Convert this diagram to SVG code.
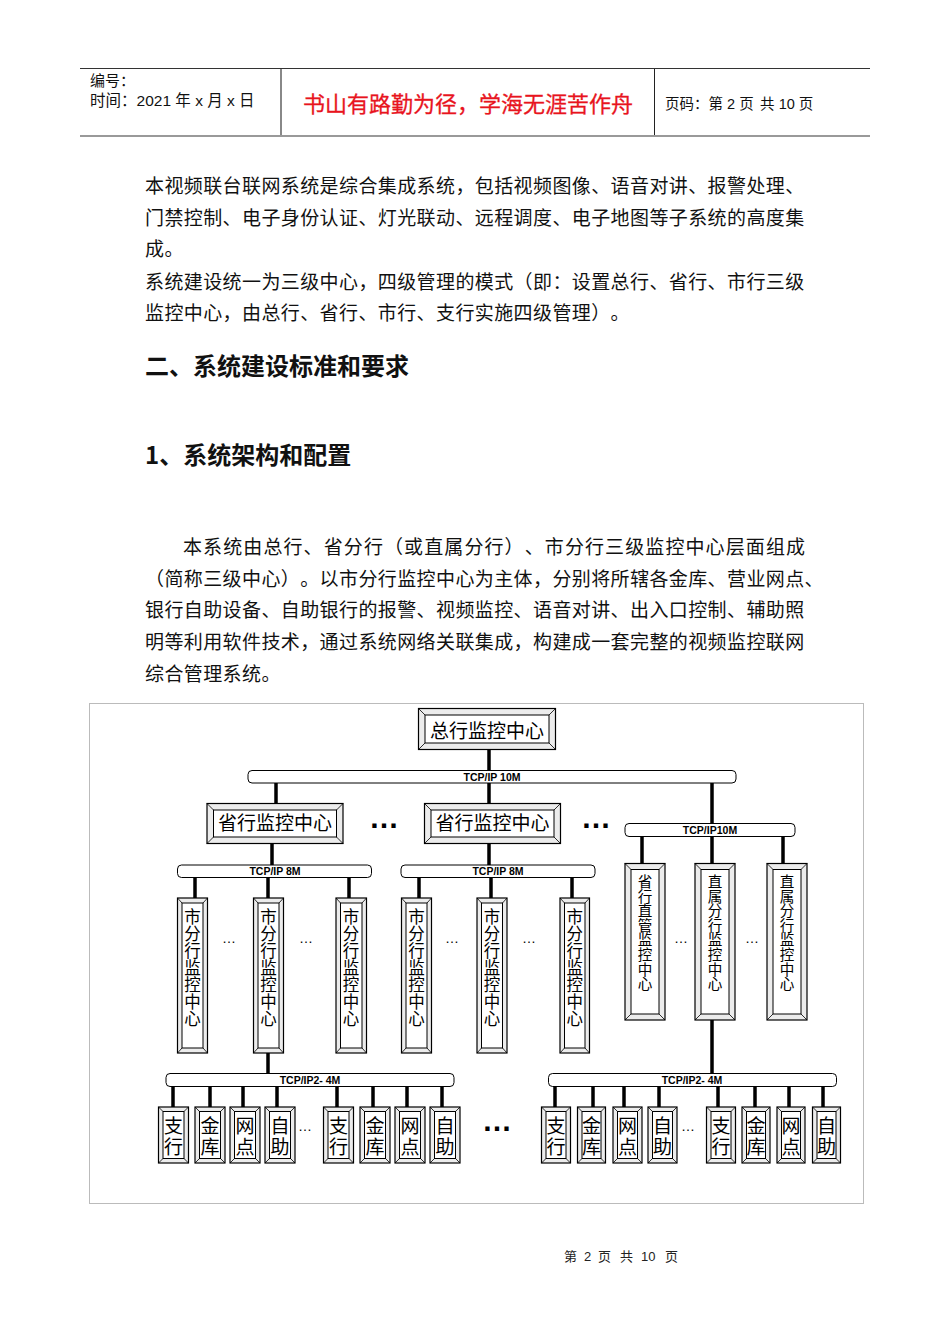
<svg xmlns="http://www.w3.org/2000/svg" width="950" height="1344" viewBox="0 0 950 1344">
<style>
text{text-spacing-trim:space-all;}
.cjk{font-family:"Noto Sans CJK SC","Liberation Sans",sans-serif;}
.body{font-family:"Noto Sans CJK SC","Liberation Sans",sans-serif;font-size:19px;letter-spacing:0.4px;fill:#111;}
.h{font-family:"Noto Sans CJK SC","Liberation Sans",sans-serif;font-size:24px;font-weight:bold;fill:#111;}
.bus{fill:#fff;stroke:#000;stroke-width:1;}
.busl{font-family:"Liberation Sans",Arial,sans-serif;font-size:10.5px;font-weight:bold;text-anchor:middle;fill:#000;}
.ln{stroke:#000;stroke-width:3.5;fill:none;}
.bo{fill:#ececec;stroke:#000;stroke-width:1.2;}
.bi{fill:#fff;stroke:#000;stroke-width:1;}
.bd{stroke:#000;stroke-width:0.8;}
.nt{font-family:"Noto Sans CJK SC","Liberation Sans",sans-serif;fill:#000;text-anchor:middle;}
.dots{font-family:"Liberation Sans",Arial,sans-serif;font-weight:bold;font-size:30px;text-anchor:middle;fill:#000;}
.sd{font-family:"Liberation Sans",Arial,sans-serif;font-size:14px;text-anchor:middle;fill:#000;}
.lat{font-family:"Liberation Sans",Arial,sans-serif;}
</style>

<!-- header -->
<g id="header">
<line x1="80" y1="68.5" x2="870" y2="68.5" stroke="#333" stroke-width="1"/>
<line x1="80" y1="136" x2="870" y2="136" stroke="#999" stroke-width="2"/>
<line x1="281" y1="69" x2="281" y2="135" stroke="#888" stroke-width="2"/>
<line x1="654.5" y1="69" x2="654.5" y2="135" stroke="#222" stroke-width="1"/>
<text x="90" y="86" class="cjk" font-size="15" fill="#111">编号：</text>
<text x="90" y="105.5" class="cjk" font-size="15.5" fill="#111" xml:space="preserve">时间：<tspan class="lat">2021 </tspan>年<tspan class="lat"> x </tspan>月<tspan class="lat"> x </tspan>日</text>
<text x="468" y="112" class="cjk" font-size="22" fill="#e8141e" text-anchor="middle" stroke="#e8141e" stroke-width="0.3">书山有路勤为径，学海无涯苦作舟</text>
<text x="665" y="109" class="cjk" font-size="14.5" fill="#111" xml:space="preserve">页码：第<tspan class="lat"> 2 </tspan>页  共<tspan class="lat"> 10 </tspan>页</text>
</g>

<!-- body text -->
<g id="text">
<text x="145" y="193" class="body">本视频联台联网系统是综合集成系统，包括视频图像、语音对讲、报警处理、</text>
<text x="145" y="225" class="body">门禁控制、电子身份认证、灯光联动、远程调度、电子地图等子系统的高度集</text>
<text x="145" y="256" class="body">成。</text>
<text x="145" y="289" class="body">系统建设统一为三级中心，四级管理的模式（即：设置总行、省行、市行三级</text>
<text x="145" y="320" class="body">监控中心，由总行、省行、市行、支行实施四级管理）。</text>
<text x="145" y="375" class="h">二、系统建设标准和要求</text>
<text x="145" y="464" class="h">1、系统架构和配置</text>
<text x="183" y="554" class="body" style="letter-spacing:1.1px">本系统由总行、省分行（或直属分行）、市分行三级监控中心层面组成</text>
<text x="145" y="586" class="body">（简称三级中心）。以市分行监控中心为主体，分别将所辖各金库、营业网点、</text>
<text x="145" y="617" class="body">银行自助设备、自助银行的报警、视频监控、语音对讲、出入口控制、辅助照</text>
<text x="145" y="649" class="body">明等利用软件技术，通过系统网络关联集成，构建成一套完整的视频监控联网</text>
<text x="145" y="681" class="body">综合管理系统。</text>
</g>

<rect id="frame" x="89.5" y="703.5" width="774" height="500" fill="none" stroke="#bbb" stroke-width="1"/>

<!-- connectors -->
<g id="connectors">
<line class="ln" x1="489" y1="749" x2="489" y2="771"/>
<line class="ln" x1="276" y1="782" x2="276" y2="804"/>
<line class="ln" x1="489" y1="782" x2="489" y2="804"/>
<line class="ln" x1="712" y1="782" x2="712" y2="824"/>
<line class="ln" x1="272" y1="843" x2="272" y2="866"/>
<line class="ln" x1="489" y1="843" x2="489" y2="866"/>
<line class="ln" x1="195" y1="877" x2="195" y2="898"/>
<line class="ln" x1="268" y1="877" x2="268" y2="898"/>
<line class="ln" x1="349" y1="877" x2="349" y2="898"/>
<line class="ln" x1="419" y1="877" x2="419" y2="898"/>
<line class="ln" x1="491" y1="877" x2="491" y2="898"/>
<line class="ln" x1="572" y1="877" x2="572" y2="898"/>
<line class="ln" x1="642" y1="836" x2="642" y2="864"/>
<line class="ln" x1="712" y1="836" x2="712" y2="864"/>
<line class="ln" x1="783" y1="836" x2="783" y2="864"/>
<line class="ln" x1="268" y1="1053" x2="268" y2="1074"/>
<line class="ln" x1="712" y1="1020" x2="712" y2="1074"/>
<line class="ln" x1="173" y1="1086" x2="173" y2="1107"/>
<line class="ln" x1="210" y1="1086" x2="210" y2="1107"/>
<line class="ln" x1="243" y1="1086" x2="243" y2="1107"/>
<line class="ln" x1="277" y1="1086" x2="277" y2="1107"/>
<line class="ln" x1="337" y1="1086" x2="337" y2="1107"/>
<line class="ln" x1="373" y1="1086" x2="373" y2="1107"/>
<line class="ln" x1="407" y1="1086" x2="407" y2="1107"/>
<line class="ln" x1="442" y1="1086" x2="442" y2="1107"/>
<line class="ln" x1="555" y1="1086" x2="555" y2="1107"/>
<line class="ln" x1="593" y1="1086" x2="593" y2="1107"/>
<line class="ln" x1="624" y1="1086" x2="624" y2="1107"/>
<line class="ln" x1="659" y1="1086" x2="659" y2="1107"/>
<line class="ln" x1="718" y1="1086" x2="718" y2="1107"/>
<line class="ln" x1="755" y1="1086" x2="755" y2="1107"/>
<line class="ln" x1="789" y1="1086" x2="789" y2="1107"/>
<line class="ln" x1="823" y1="1086" x2="823" y2="1107"/>
</g>

<!-- buses -->
<g id="bus-10M"><rect class="bus" x="248" y="770.5" width="488" height="12.5" rx="4"/><text class="busl" x="492" y="780.8">TCP/IP 10M</text></g>
<g id="bus-8M-1"><rect class="bus" x="177.5" y="865" width="194" height="12.5" rx="4"/><text class="busl" x="275" y="875.3">TCP/IP 8M</text></g>
<g id="bus-8M-2"><rect class="bus" x="401" y="865" width="194" height="12.5" rx="4"/><text class="busl" x="498" y="875.3">TCP/IP 8M</text></g>
<g id="bus-10M-2"><rect class="bus" x="625" y="823.5" width="170" height="13" rx="4"/><text class="busl" x="710" y="833.8">TCP/IP10M</text></g>
<g id="bus-4M-1"><rect class="bus" x="166" y="1073.5" width="288" height="13" rx="4"/><text class="busl" x="310" y="1083.8">TCP/IP2- 4M</text></g>
<g id="bus-4M-2"><rect class="bus" x="548.5" y="1073.5" width="288" height="13" rx="4"/><text class="busl" x="692" y="1083.8">TCP/IP2- 4M</text></g>

<!-- top node -->
<g id="hq">
<rect class="bo" x="418.5" y="708.5" width="137" height="41"/>
<rect class="bi" x="425" y="715" width="124" height="28"/>
<path class="bd" d="M418.5 708.5L425 715M555.5 708.5L549 715M418.5 749.5L425 743M555.5 749.5L549 743"/>
<text class="nt" x="487" y="738" font-size="19">总行监控中心</text>
</g>

<g id="prov-1">
<rect class="bo" x="207" y="803.5" width="136" height="40"/>
<rect class="bi" x="213.5" y="810" width="123" height="27"/>
<path class="bd" d="M207 803.5L213.5 810M343 803.5L336.5 810M207 843.5L213.5 837M343 843.5L336.5 837"/>
<text class="nt" x="275" y="830" font-size="19">省行监控中心</text>
</g>
<g id="prov-2">
<rect class="bo" x="424.5" y="803.5" width="136" height="40"/>
<rect class="bi" x="431" y="810" width="123" height="27"/>
<path class="bd" d="M424.5 803.5L431 810M560.5 803.5L554 810M424.5 843.5L431 837M560.5 843.5L554 837"/>
<text class="nt" x="492.5" y="830" font-size="19">省行监控中心</text>
</g>
<text class="dots" x="384" y="828">…</text>
<text class="dots" x="596" y="828">…</text>

<!-- city nodes -->
<g id="city-1">
<rect class="bo" x="177.5" y="898" width="30" height="155"/><rect class="bi" x="182" y="903" width="21" height="145"/>
<path class="bd" d="M177.5 898L182 903M207.5 898L203 903M177.5 1053L182 1048M207.5 1053L203 1048"/>
<text class="nt" font-size="16.5" x="192.5 192.5 192.5 192.5 192.5 192.5 192.5" y="923 940 957 974 991 1008 1025">市分行监控中心</text>
</g>
<g id="city-2">
<rect class="bo" x="253.5" y="898" width="30" height="155"/><rect class="bi" x="258" y="903" width="21" height="145"/>
<path class="bd" d="M253.5 898L258 903M283.5 898L279 903M253.5 1053L258 1048M283.5 1053L279 1048"/>
<text class="nt" font-size="16.5" x="268.5 268.5 268.5 268.5 268.5 268.5 268.5" y="923 940 957 974 991 1008 1025">市分行监控中心</text>
</g>
<g id="city-3">
<rect class="bo" x="336" y="898" width="30.5" height="155"/><rect class="bi" x="340.5" y="903" width="21.5" height="145"/>
<path class="bd" d="M336 898L340.5 903M366.5 898L362 903M336 1053L340.5 1048M366.5 1053L362 1048"/>
<text class="nt" font-size="16.5" x="351 351 351 351 351 351 351" y="923 940 957 974 991 1008 1025">市分行监控中心</text>
</g>
<g id="city-4">
<rect class="bo" x="401.5" y="898" width="30" height="155"/><rect class="bi" x="406" y="903" width="21" height="145"/>
<path class="bd" d="M401.5 898L406 903M431.5 898L427 903M401.5 1053L406 1048M431.5 1053L427 1048"/>
<text class="nt" font-size="16.5" x="416.5 416.5 416.5 416.5 416.5 416.5 416.5" y="923 940 957 974 991 1008 1025">市分行监控中心</text>
</g>
<g id="city-5">
<rect class="bo" x="477" y="898" width="30" height="155"/><rect class="bi" x="481.5" y="903" width="21" height="145"/>
<path class="bd" d="M477 898L481.5 903M507 898L502.5 903M477 1053L481.5 1048M507 1053L502.5 1048"/>
<text class="nt" font-size="16.5" x="492 492 492 492 492 492 492" y="923 940 957 974 991 1008 1025">市分行监控中心</text>
</g>
<g id="city-6">
<rect class="bo" x="560" y="898" width="29.5" height="155"/><rect class="bi" x="564.5" y="903" width="20.5" height="145"/>
<path class="bd" d="M560 898L564.5 903M589.5 898L585 903M560 1053L564.5 1048M589.5 1053L585 1048"/>
<text class="nt" font-size="16.5" x="574.8 574.8 574.8 574.8 574.8 574.8 574.8" y="923 940 957 974 991 1008 1025">市分行监控中心</text>
</g>
<text class="sd" x="229" y="943">…</text>
<text class="sd" x="306" y="943">…</text>
<text class="sd" x="452" y="943">…</text>
<text class="sd" x="529" y="943">…</text>

<!-- right group -->
<g id="prov-direct">
<rect class="bo" x="625" y="863.5" width="40" height="156.5"/><rect class="bi" x="631" y="869.5" width="28" height="144.5"/>
<path class="bd" d="M625 863.5L631 869.5M665 863.5L659 869.5M625 1020L631 1014M665 1020L659 1014"/>
<text class="nt" font-size="14.6" x="645 645 645 645 645 645 645 645" y="887 901.6 916.2 930.8 945.4 960 974.6 989.2">省行直管监控中心</text>
</g>
<g id="direct-1">
<rect class="bo" x="695" y="863.5" width="40" height="156.5"/><rect class="bi" x="701" y="869.5" width="28" height="144.5"/>
<path class="bd" d="M695 863.5L701 869.5M735 863.5L729 869.5M695 1020L701 1014M735 1020L729 1014"/>
<text class="nt" font-size="14.6" x="715 715 715 715 715 715 715 715" y="887 901.6 916.2 930.8 945.4 960 974.6 989.2">直属分行监控中心</text>
</g>
<g id="direct-2">
<rect class="bo" x="767" y="863.5" width="40" height="156.5"/><rect class="bi" x="773" y="869.5" width="28" height="144.5"/>
<path class="bd" d="M767 863.5L773 869.5M807 863.5L801 869.5M767 1020L773 1014M807 1020L801 1014"/>
<text class="nt" font-size="14.6" x="787 787 787 787 787 787 787 787" y="887 901.6 916.2 930.8 945.4 960 974.6 989.2">直属分行监控中心</text>
</g>
<text class="sd" x="681" y="943">…</text>
<text class="sd" x="752" y="943">…</text>

<!-- bottom nodes -->
<g id="b1"><rect class="bo" x="158.5" y="1107" width="30" height="56"/><rect class="bi" x="163" y="1111.5" width="21" height="47"/><path class="bd" d="M158.5 1107L163 1111.5M188.5 1107L184 1111.5M158.5 1163L163 1158.5M188.5 1163L184 1158.5"/><text class="nt" font-size="19" x="173.5 173.5" y="1133 1154">支行</text></g>
<g id="b2"><rect class="bo" x="195" y="1107" width="30" height="56"/><rect class="bi" x="199.5" y="1111.5" width="21" height="47"/><path class="bd" d="M195 1107L199.5 1111.5M225 1107L220.5 1111.5M195 1163L199.5 1158.5M225 1163L220.5 1158.5"/><text class="nt" font-size="19" x="210 210" y="1133 1154">金库</text></g>
<g id="b3"><rect class="bo" x="230" y="1107" width="30" height="56"/><rect class="bi" x="234.5" y="1111.5" width="21" height="47"/><path class="bd" d="M230 1107L234.5 1111.5M260 1107L255.5 1111.5M230 1163L234.5 1158.5M260 1163L255.5 1158.5"/><text class="nt" font-size="19" x="245 245" y="1133 1154">网点</text></g>
<g id="b4"><rect class="bo" x="265" y="1107" width="30" height="56"/><rect class="bi" x="269.5" y="1111.5" width="21" height="47"/><path class="bd" d="M265 1107L269.5 1111.5M295 1107L290.5 1111.5M265 1163L269.5 1158.5M295 1163L290.5 1158.5"/><text class="nt" font-size="19" x="280 280" y="1133 1154">自助</text></g>
<g id="b5"><rect class="bo" x="323.5" y="1107" width="30" height="56"/><rect class="bi" x="328" y="1111.5" width="21" height="47"/><path class="bd" d="M323.5 1107L328 1111.5M353.5 1107L349 1111.5M323.5 1163L328 1158.5M353.5 1163L349 1158.5"/><text class="nt" font-size="19" x="338.5 338.5" y="1133 1154">支行</text></g>
<g id="b6"><rect class="bo" x="360" y="1107" width="30" height="56"/><rect class="bi" x="364.5" y="1111.5" width="21" height="47"/><path class="bd" d="M360 1107L364.5 1111.5M390 1107L385.5 1111.5M360 1163L364.5 1158.5M390 1163L385.5 1158.5"/><text class="nt" font-size="19" x="375 375" y="1133 1154">金库</text></g>
<g id="b7"><rect class="bo" x="395" y="1107" width="30" height="56"/><rect class="bi" x="399.5" y="1111.5" width="21" height="47"/><path class="bd" d="M395 1107L399.5 1111.5M425 1107L420.5 1111.5M395 1163L399.5 1158.5M425 1163L420.5 1158.5"/><text class="nt" font-size="19" x="410 410" y="1133 1154">网点</text></g>
<g id="b8"><rect class="bo" x="430" y="1107" width="30" height="56"/><rect class="bi" x="434.5" y="1111.5" width="21" height="47"/><path class="bd" d="M430 1107L434.5 1111.5M460 1107L455.5 1111.5M430 1163L434.5 1158.5M460 1163L455.5 1158.5"/><text class="nt" font-size="19" x="445 445" y="1133 1154">自助</text></g>
<g id="b9"><rect class="bo" x="541.5" y="1107" width="29" height="56"/><rect class="bi" x="546" y="1111.5" width="20" height="47"/><path class="bd" d="M541.5 1107L546 1111.5M570.5 1107L566 1111.5M541.5 1163L546 1158.5M570.5 1163L566 1158.5"/><text class="nt" font-size="19" x="556 556" y="1133 1154">支行</text></g>
<g id="b10"><rect class="bo" x="577.5" y="1107" width="28" height="56"/><rect class="bi" x="582" y="1111.5" width="19" height="47"/><path class="bd" d="M577.5 1107L582 1111.5M605.5 1107L601 1111.5M577.5 1163L582 1158.5M605.5 1163L601 1158.5"/><text class="nt" font-size="19" x="591.5 591.5" y="1133 1154">金库</text></g>
<g id="b11"><rect class="bo" x="613" y="1107" width="29" height="56"/><rect class="bi" x="617.5" y="1111.5" width="20" height="47"/><path class="bd" d="M613 1107L617.5 1111.5M642 1107L637.5 1111.5M613 1163L617.5 1158.5M642 1163L637.5 1158.5"/><text class="nt" font-size="19" x="627.5 627.5" y="1133 1154">网点</text></g>
<g id="b12"><rect class="bo" x="648" y="1107" width="29" height="56"/><rect class="bi" x="652.5" y="1111.5" width="20" height="47"/><path class="bd" d="M648 1107L652.5 1111.5M677 1107L672.5 1111.5M648 1163L652.5 1158.5M677 1163L672.5 1158.5"/><text class="nt" font-size="19" x="662.5 662.5" y="1133 1154">自助</text></g>
<g id="b13"><rect class="bo" x="706.5" y="1107" width="29" height="56"/><rect class="bi" x="711" y="1111.5" width="20" height="47"/><path class="bd" d="M706.5 1107L711 1111.5M735.5 1107L731 1111.5M706.5 1163L711 1158.5M735.5 1163L731 1158.5"/><text class="nt" font-size="19" x="721 721" y="1133 1154">支行</text></g>
<g id="b14"><rect class="bo" x="742" y="1107" width="28" height="56"/><rect class="bi" x="746.5" y="1111.5" width="19" height="47"/><path class="bd" d="M742 1107L746.5 1111.5M770 1107L765.5 1111.5M742 1163L746.5 1158.5M770 1163L765.5 1158.5"/><text class="nt" font-size="19" x="756 756" y="1133 1154">金库</text></g>
<g id="b15"><rect class="bo" x="777" y="1107" width="28" height="56"/><rect class="bi" x="781.5" y="1111.5" width="19" height="47"/><path class="bd" d="M777 1107L781.5 1111.5M805 1107L800.5 1111.5M777 1163L781.5 1158.5M805 1163L800.5 1158.5"/><text class="nt" font-size="19" x="791 791" y="1133 1154">网点</text></g>
<g id="b16"><rect class="bo" x="812.5" y="1107" width="28" height="56"/><rect class="bi" x="817" y="1111.5" width="19" height="47"/><path class="bd" d="M812.5 1107L817 1111.5M840.5 1107L836 1111.5M812.5 1163L817 1158.5M840.5 1163L836 1158.5"/><text class="nt" font-size="19" x="826.5 826.5" y="1133 1154">自助</text></g>
<text class="sd" x="305" y="1131">…</text>
<text class="sd" x="688" y="1131">…</text>
<text class="dots" x="497" y="1131">…</text>

<!-- footer -->
<g id="footer" font-size="13" fill="#222">
<text x="564" y="1261" class="cjk">第</text>
<text x="584" y="1261" class="lat">2</text>
<text x="598" y="1261" class="cjk">页</text>
<text x="620" y="1261" class="cjk">共</text>
<text x="641" y="1261" class="lat">10</text>
<text x="665" y="1261" class="cjk">页</text>
</g>
</svg>
